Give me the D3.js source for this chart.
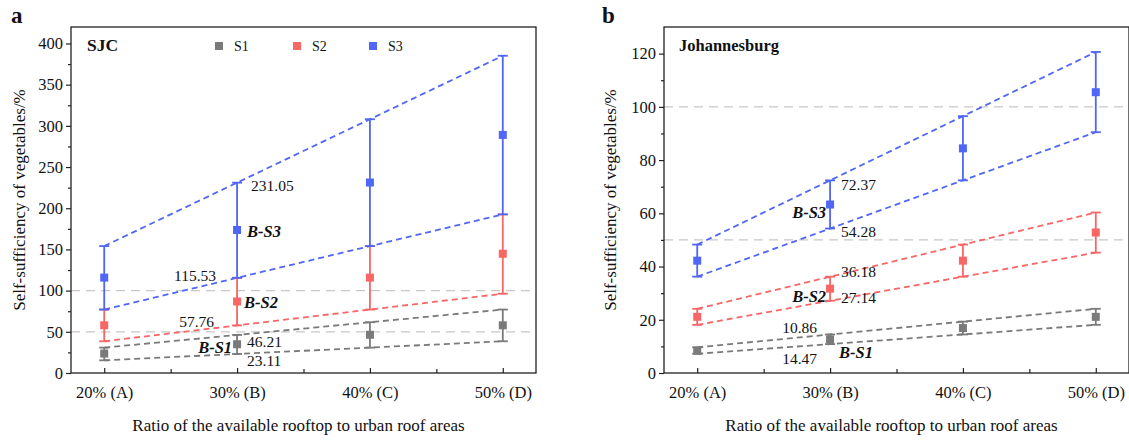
<!DOCTYPE html>
<html>
<head>
<meta charset="utf-8">
<script src="https://cdn.jsdelivr.net/npm/d3@7"></script>
<style>
body { margin: 0; background: #fff; }
text { font-family: "Liberation Serif", "Times New Roman", serif; fill: #111; }
</style>
</head>
<body>
<script>
// data
var categories = ["20% (A)", "30% (B)", "40% (C)", "50% (D)"];
var seriesNames = ["S1", "S2", "S3"];

// each point: [low, mean, high]
var sjcS1 = [[15.40, 23.6, 30.80], [23.11, 34.9, 46.21], [30.81, 46.4, 61.62], [38.51, 57.9, 77.02]];
var sjcS2 = [[38.51, 57.9, 77.02], [57.76, 86.8, 115.53], [77.02, 115.8, 154.04], [96.27, 144.8, 192.55]];
var sjcS3 = [[77.02, 115.8, 154.04], [115.53, 173.6, 231.05], [154.04, 231.2, 308.07], [192.55, 289.0, 385.10]];

var jnbS1 = [[7.24, 8.4, 9.65], [10.86, 12.6, 14.47], [14.48, 16.9, 19.30], [18.10, 21.1, 24.12]];
var jnbS2 = [[18.09, 21.1, 24.12], [27.14, 31.7, 36.18], [36.19, 42.2, 48.24], [45.23, 52.8, 60.31]];
var jnbS3 = [[36.19, 42.2, 48.24], [54.28, 63.3, 72.37], [72.38, 84.4, 96.50], [90.47, 105.5, 120.62]];

var sjcTicks = [0, 50, 100, 150, 200, 250, 300, 350, 400];
var jnbTicks = [0, 20, 40, 60, 80, 100, 120];
var refLevels = [50, 100];

// annotation text, category index, value it sits by
var sjcNotes = [
  {text: "231.05", cat: 1, value: 231.05},
  {text: "B-S3", cat: 1, value: 173.6, bold: true},
  {text: "115.53", cat: 1, value: 115.53},
  {text: "B-S2", cat: 1, value: 86.8, bold: true},
  {text: "57.76", cat: 1, value: 57.76},
  {text: "46.21", cat: 1, value: 46.21},
  {text: "B-S1", cat: 1, value: 34.9, bold: true},
  {text: "23.11", cat: 1, value: 23.11}
];
var jnbNotes = [
  {text: "72.37", cat: 1, value: 72.37},
  {text: "B-S3", cat: 1, value: 63.3, bold: true},
  {text: "54.28", cat: 1, value: 54.28},
  {text: "36.18", cat: 1, value: 36.18},
  {text: "B-S2", cat: 1, value: 31.7, bold: true},
  {text: "27.14", cat: 1, value: 27.14},
  {text: "10.86", cat: 1, value: 10.86},
  {text: "B-S1", cat: 1, value: 12.6, bold: true},
  {text: "14.47", cat: 1, value: 14.47}
];

var colors = {S1: "#7a7a7a", S2: "#f86666", S3: "#4f66f7"};

// label offsets (px) from their anchor, same order as the notes
var sjcOffsets = [[14, 3, "start"], [10, 1, "start"], [-21, -2, "end"], [7, 1, "start"], [-23, -4, "end"], [10, 7, "start"], [-5, 3, "end"], [10, 7, "start"]];
var jnbOffsets = [[11, 4, "start"], [-4, 8, "end"], [11, 3, "start"], [11, -5, "start"], [-4, 8, "end"], [11, -3, "start"], [-13, -17, "end"], [9, 13, "start"], [-13, 24, "end"]];

var W = 1129, H = 440;
var svg = d3.select("body").append("svg")
  .attr("width", W)
  .attr("height", H);

var plotW = 465, plotH = 346, plotTop = 27;

function drawPanel(opt) {
  var g = svg.append("g").attr("transform", "translate(" + opt.left + "," + plotTop + ")");

  var x = d3.scaleLinear().domain([-0.25, 3.25]).range([0, plotW]);
  var y = d3.scaleLinear().domain([0, opt.ymax]).range([plotH, 0]);

  g.append("clipPath").attr("id", "clip" + opt.id)
    .append("rect").attr("width", plotW).attr("height", plotH);

  var body = g.append("g").attr("clip-path", "url(#clip" + opt.id + ")");

  body.selectAll(".ref")
    .data(refLevels)
    .enter().append("line")
    .attr("x1", 0).attr("x2", plotW)
    .attr("y1", function(d) { return y(d); })
    .attr("y2", function(d) { return y(d); })
    .attr("stroke", "#c8c8c8")
    .attr("stroke-width", 1.2)
    .attr("stroke-dasharray", "9,6");

  var line = d3.line()
    .x(function(d, i) { return x(i); })
    .y(function(d) { return y(d); });

  opt.series.forEach(function(s, k) {
    var c = colors[seriesNames[k]];
    var next = opt.series[k + 1];
    [0, 2].forEach(function(j) {
      // an upper line that the next series' lower line covers is left out
      if (j === 2 && next && Math.abs(next[0][0] - s[0][2]) < 0.5) return;
      body.append("path")
        .datum(s.map(function(d) { return d[j]; }))
        .attr("d", line)
        .attr("fill", "none")
        .attr("stroke", c)
        .attr("stroke-width", 1.8)
        .attr("stroke-dasharray", "6,4");
    });
  });

  opt.series.forEach(function(s, k) {
    var c = colors[seriesNames[k]];
    var eb = body.append("g");
    eb.selectAll("line.v")
      .data(s)
      .enter().append("line")
      .attr("x1", function(d, i) { return x(i); })
      .attr("x2", function(d, i) { return x(i); })
      .attr("y1", function(d) { return y(d[0]); })
      .attr("y2", function(d) { return y(d[2]); })
      .attr("stroke", c)
      .attr("stroke-width", 1.8);
    [0, 2].forEach(function(j) {
      eb.selectAll("line.c" + j)
        .data(s)
        .enter().append("line")
        .attr("x1", function(d, i) { return x(i) - 5; })
        .attr("x2", function(d, i) { return x(i) + 5; })
        .attr("y1", function(d) { return y(d[j]); })
        .attr("y2", function(d) { return y(d[j]); })
        .attr("stroke", c)
        .attr("stroke-width", 1.8);
    });
    eb.selectAll("rect")
      .data(s)
      .enter().append("rect")
      .attr("x", function(d, i) { return x(i) - 4; })
      .attr("y", function(d) { return y(d[1]) - 4; })
      .attr("width", 8)
      .attr("height", 8)
      .attr("fill", c);
  });

  // frame
  g.append("rect")
    .attr("width", plotW).attr("height", plotH)
    .attr("fill", "none")
    .attr("stroke", "#222")
    .attr("stroke-width", 1.3);

  // axes
  var yAxis = d3.axisLeft(y).tickValues(opt.ticks).tickSize(5).tickPadding(3);
  var ya = g.append("g").call(yAxis);
  var step = opt.ticks[1] - opt.ticks[0];
  var minor = opt.ticks.map(function(t) { return t + step / 2; }).filter(function(t) { return t < opt.ymax; });
  var ym = g.append("g").call(d3.axisLeft(y).tickValues(minor).tickSize(3).tickFormat(""));

  var xAxis = d3.axisBottom(x).tickValues([0, 1, 2, 3])
    .tickFormat(function(d) { return categories[d]; })
    .tickSizeInner(-5).tickSizeOuter(0).tickPadding(13);
  var xa = g.append("g").attr("transform", "translate(0," + plotH + ")").call(xAxis);
  var xm = g.append("g").attr("transform", "translate(0," + plotH + ")")
    .call(d3.axisBottom(x).tickValues([0.5, 1.5, 2.5]).tickSizeInner(-4).tickSizeOuter(0).tickFormat(""));

  [ya, ym, xa, xm].forEach(function(a) {
    a.select(".domain").remove();
    a.selectAll("line").attr("stroke", "#222").attr("stroke-width", 1.2);
    a.selectAll("text")
      .style("font-family", "'Liberation Serif', 'Times New Roman', serif")
      .style("font-size", "16.5px")
      .attr("fill", "#111");
  });

  // titles
  g.append("text")
    .attr("transform", "translate(" + opt.ytitleX + "," + (plotH / 2) + ") rotate(-90)")
    .attr("text-anchor", "middle")
    .style("font-size", "17px")
    .text("Self-sufficiency of vegetables/%");

  g.append("text")
    .attr("x", plotW / 2 - 5)
    .attr("y", 404)
    .attr("text-anchor", "middle")
    .style("font-size", "17px")
    .text("Ratio of the available rooftop to urban roof areas");

  g.append("text")
    .attr("x", opt.nameX)
    .attr("y", 24)
    .style("font-size", opt.nameSize)
    .style("font-weight", "bold")
    .text(opt.name);

  svg.append("text")
    .attr("x", opt.letterX)
    .attr("y", 23)
    .style("font-size", "23px")
    .style("font-weight", "bold")
    .text(opt.letter);

  // annotations
  opt.notes.forEach(function(n, i) {
    var o = opt.offsets[i];
    var t = g.append("text")
      .attr("x", x(n.cat) + o[0])
      .attr("y", y(n.value) + o[1])
      .attr("dy", "0.35em")
      .attr("text-anchor", o[2])
      .style("font-size", n.bold ? "16.5px" : "15.5px")
      .text(n.text);
    if (n.bold) t.style("font-weight", "bold").style("font-style", "italic");
  });

  return g;
}

drawPanel({
  id: "a", left: 71, ymax: 420, ticks: sjcTicks,
  series: [sjcS1, sjcS2, sjcS3], notes: sjcNotes, offsets: sjcOffsets,
  name: "SJC", nameX: 16, nameSize: "17.5px", letter: "a", letterX: 11, ytitleX: -46
});

// legend
var legX = [219, 297, 373];
seriesNames.forEach(function(s, i) {
  svg.append("rect")
    .attr("x", legX[i] - 4).attr("y", 42)
    .attr("width", 8).attr("height", 8)
    .attr("fill", colors[s]);
  svg.append("text")
    .attr("x", legX[i] + 15).attr("y", 51)
    .style("font-size", "14px")
    .text(s);
});

drawPanel({
  id: "b", left: 664, ymax: 130, ticks: jnbTicks,
  series: [jnbS1, jnbS2, jnbS3], notes: jnbNotes, offsets: jnbOffsets,
  name: "Johannesburg", nameX: 15, nameSize: "16.5px", letter: "b", letterX: 602, ytitleX: -48
});
</script>
</body>
</html>
